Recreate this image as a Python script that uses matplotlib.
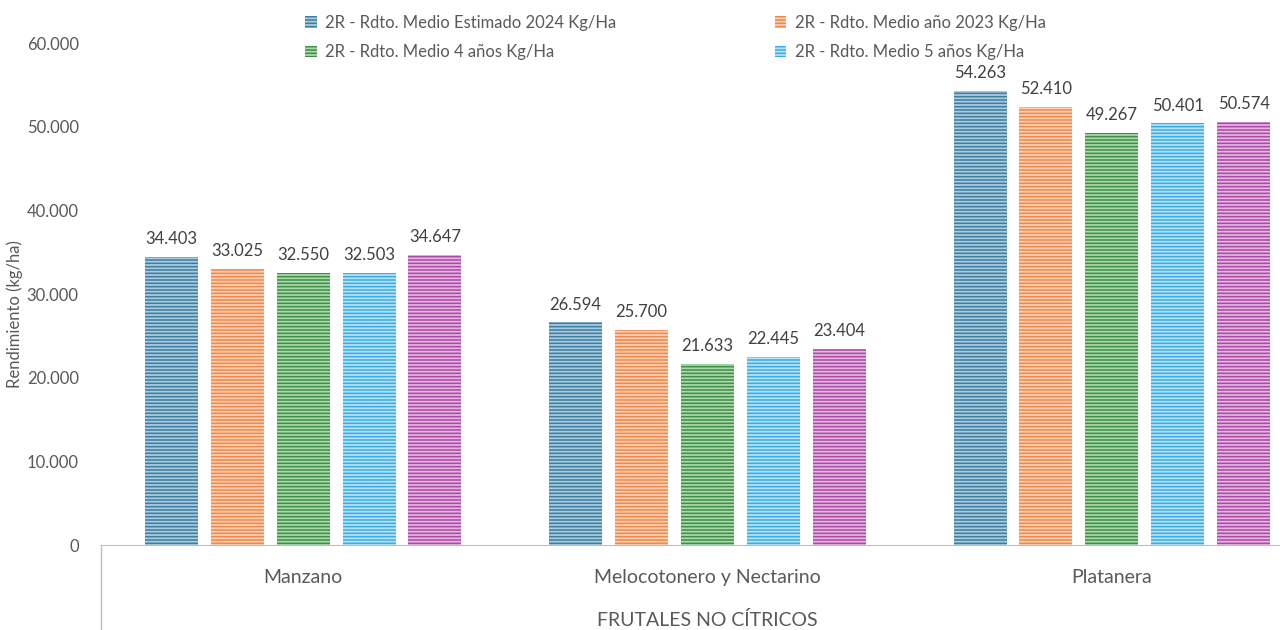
import matplotlib.pyplot as plt
import numpy as np
from matplotlib.patches import Patch

categories = ["Manzano", "Melocotonero y Nectarino", "Platanera"]
group_label = "FRUTALES NO CÍTRICOS"
series_names = [
    "2R - Rdto. Medio Estimado 2024 Kg/Ha",
    "2R - Rdto. Medio año 2023 Kg/Ha",
    "2R - Rdto. Medio 4 años Kg/Ha",
    "2R - Rdto. Medio 5 años Kg/Ha",
    "",
]
estimado_2024 = [34403, 26594, 54263]
medio_2023 = [33025, 25700, 52410]
medio_4 = [32550, 21633, 49267]
medio_5 = [32503, 22445, 50401]
medio_extra = [34647, 23404, 50574]
yticks = [0, 10000, 20000, 30000, 40000, 50000, 60000]

series = [estimado_2024, medio_2023, medio_4, medio_5, medio_extra]
colors = ["#3f7da0", "#f0874b", "#3e8f45", "#39ade3", "#ac48a6"]
stripes = ["#a9cbe0", "#fbd0b3", "#a9d8ab", "#b5e2f7", "#e4b5e0"]

def fmt(v):
    return f"{v:,.0f}".replace(",", ".")

plt.rcParams['font.family'] = ['Lato', 'DejaVu Sans']
plt.rcParams['hatch.linewidth'] = 1.3
txt = "#595959"

fig = plt.figure(figsize=(12.8, 6.3), dpi=100)
ax = fig.add_axes([101 / 1280, 85 / 630, 1213 / 1280, 502 / 630])

x = np.arange(len(categories))
width = 0.131
pitch = 0.163
for i, vals in enumerate(series):
    pos = x + (i - 2) * pitch
    bars = ax.bar(pos, vals, width, color=colors[i], edgecolor=stripes[i],
                  linewidth=0, hatch="-----")
    ax.bar_label(bars, labels=[fmt(v) for v in vals], padding=7,
                 fontsize=12, color="#404040")

ax.set_xlim(-0.5, 2.5)
ax.set_ylim(0, 60000)
ax.set_yticks(yticks)
ax.set_yticklabels([fmt(v) for v in yticks], fontsize=12, color=txt)
ax.tick_params(axis="y", length=0, pad=16)
ax.set_xticks(x)
ax.set_xticklabels(categories, fontsize=14, color=txt)
ax.tick_params(axis="x", length=0, pad=17)
for s in ["top", "right", "left"]:
    ax.spines[s].set_visible(False)
ax.spines["bottom"].set_color("#bfbfbf")
ax.set_ylabel("Rendimiento (kg/ha)", fontsize=12, color=txt)
ax.yaxis.set_label_coords(-0.0645, 0.46)

# multi-level category axis bracket
ax.plot([0, 0], [0, -0.17], transform=ax.transAxes, color="#bfbfbf",
        lw=1, clip_on=False)
ax.text(0.5, -0.149, group_label, transform=ax.transAxes, ha="center",
        va="center", fontsize=14, color=txt)

handles = [Patch(facecolor=colors[i], edgecolor=stripes[i], linewidth=0,
                 hatch="-----", label=series_names[i]) for i in range(4)]
order = [0, 2, 1, 3]
fig.legend([handles[k] for k in order], [series_names[k] for k in order],
           ncol=2, loc="upper left", bbox_to_anchor=(290 / 1280, 1.0),
           frameon=False, fontsize=12, labelcolor=txt, handlelength=0.7,
           handleheight=0.7, handletextpad=0.5, columnspacing=9.5,
           labelspacing=0.8)

fig.savefig("out.png")
